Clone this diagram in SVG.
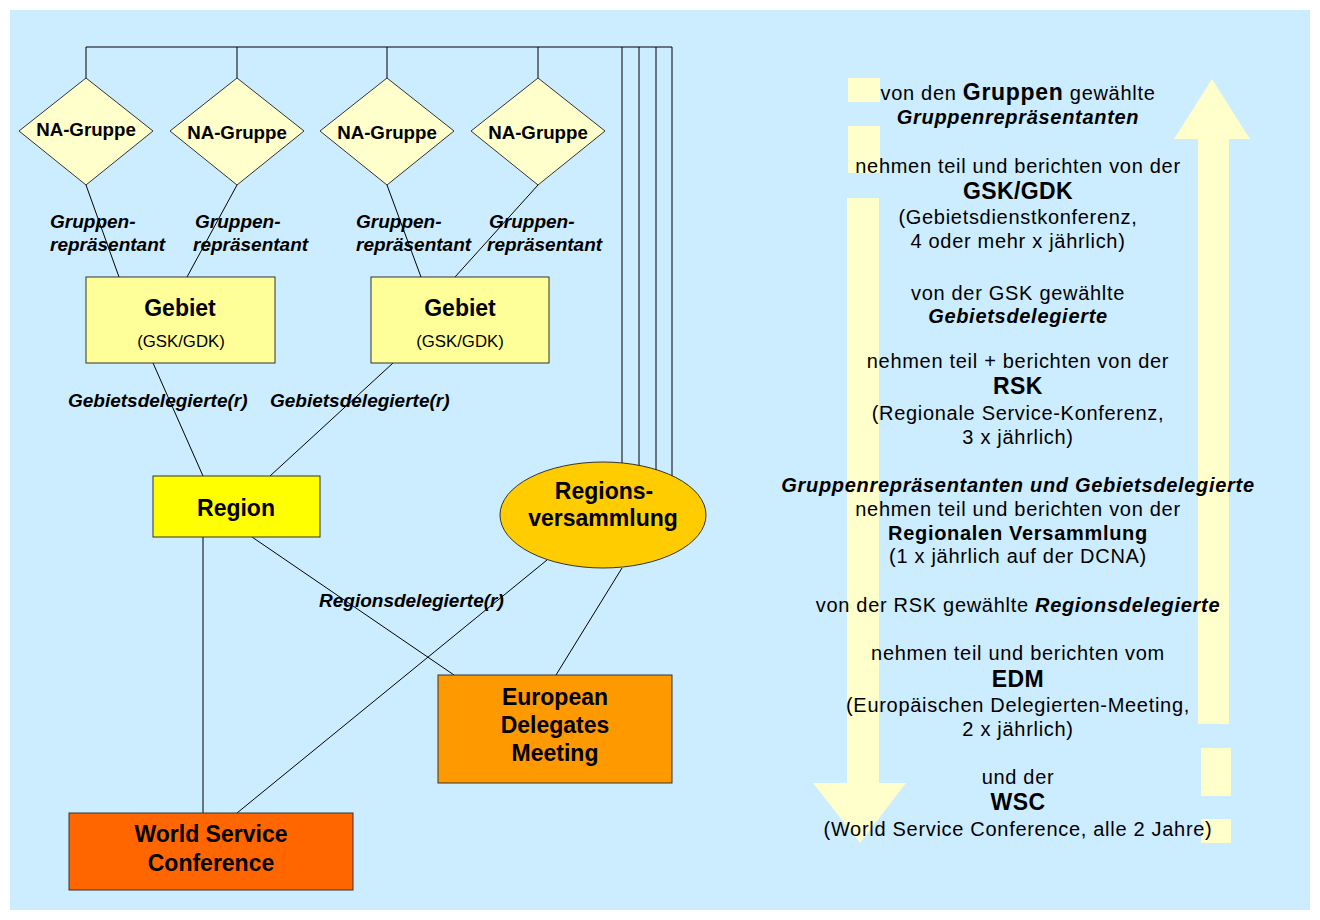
<svg xmlns="http://www.w3.org/2000/svg" width="1320" height="920" viewBox="0 0 1320 920">
<style>
.ln{stroke:#000;stroke-width:1;fill:none}
.box{stroke:#333;stroke-width:1}
.arr{fill:#FFFFCC;stroke:none}
text{font-family:"Liberation Sans",Arial,sans-serif;fill:#000}
.nt{font-weight:bold;font-size:23px;text-anchor:middle}
.na{font-weight:bold;font-size:18.7px;text-anchor:middle}
.lb{font-weight:bold;font-style:italic;font-size:19px}
.rt{font-size:20px;letter-spacing:0.7px;text-anchor:middle}
.rb{font-weight:bold;font-size:23px;letter-spacing:0.4px}
.bi{font-weight:bold;font-style:italic}
.b{font-weight:bold}
</style>
<rect x="0" y="0" width="1320" height="920" fill="#FFFFFF"/>
<rect x="10" y="10" width="1300" height="900" fill="#CCECFF"/>

<g id="arrow-down">
<rect class="arr" x="848" y="78" width="32" height="24"/>
<rect class="arr" x="848" y="126" width="32" height="47"/>
<rect class="arr" x="847" y="198" width="32" height="586"/>
<polygon class="arr" points="813,783 906,783 860,843"/>
</g>
<g id="arrow-up">
<polygon class="arr" points="1212,79 1250,139 1174,139"/>
<rect class="arr" x="1198" y="138" width="31" height="586"/>
<rect class="arr" x="1201" y="748" width="30" height="48"/>
<rect class="arr" x="1201" y="819" width="30" height="24"/>
</g>

<g id="connectors">
<polyline class="ln" points="86,79 86,47 672,47 672,476"/>
<line class="ln" x1="237" y1="47" x2="237" y2="78"/>
<line class="ln" x1="387" y1="47" x2="387" y2="78"/>
<line class="ln" x1="538" y1="47" x2="538" y2="78"/>
<line class="ln" x1="622" y1="47" x2="622" y2="463"/>
<line class="ln" x1="639" y1="47" x2="639" y2="466"/>
<line class="ln" x1="656" y1="47" x2="656" y2="470"/>
<line class="ln" x1="86" y1="185" x2="119" y2="277"/>
<line class="ln" x1="237" y1="185" x2="187" y2="277"/>
<line class="ln" x1="387" y1="185" x2="421" y2="277"/>
<line class="ln" x1="538" y1="185" x2="455" y2="277"/>
<line class="ln" x1="153" y1="363" x2="203" y2="476"/>
<line class="ln" x1="393" y1="363" x2="270" y2="476"/>
<line class="ln" x1="203" y1="537" x2="203" y2="813"/>
<line class="ln" x1="252" y1="537" x2="454" y2="675"/>
<line class="ln" x1="547" y1="560" x2="237" y2="813"/>
<line class="ln" x1="622" y1="568" x2="556" y2="675"/>
</g>

<g id="na1"><polygon class="box" fill="#FFFFCC" points="86,78 153,131 86,185 19,131"/><text class="na" x="86" y="136">NA-Gruppe</text></g>
<g id="na2"><polygon class="box" fill="#FFFFCC" points="237,78 304,131 237,185 170,131"/><text class="na" x="237" y="139">NA-Gruppe</text></g>
<g id="na3"><polygon class="box" fill="#FFFFCC" points="387,78 454,131 387,185 320,131"/><text class="na" x="387" y="139">NA-Gruppe</text></g>
<g id="na4"><polygon class="box" fill="#FFFFCC" points="538,78 605,131 538,185 471,131"/><text class="na" x="538" y="139">NA-Gruppe</text></g>

<g id="lbl-gr1"><text class="lb"><tspan x="50" y="228">Gruppen-</tspan><tspan x="50" y="251">repräsentant</tspan></text></g>
<g id="lbl-gr2"><text class="lb"><tspan x="195" y="228">Gruppen-</tspan><tspan x="193" y="251">repräsentant</tspan></text></g>
<g id="lbl-gr3"><text class="lb"><tspan x="356" y="228">Gruppen-</tspan><tspan x="356" y="251">repräsentant</tspan></text></g>
<g id="lbl-gr4"><text class="lb"><tspan x="489" y="228">Gruppen-</tspan><tspan x="487" y="251">repräsentant</tspan></text></g>

<g id="gebiet1"><rect class="box" fill="#FFFF99" x="86" y="277" width="189" height="86"/><text class="nt" x="180" y="316">Gebiet</text><text x="181" y="347" font-size="16.8" text-anchor="middle">(GSK/GDK)</text></g>
<g id="gebiet2"><rect class="box" fill="#FFFF99" x="371" y="277" width="178" height="86"/><text class="nt" x="460" y="316">Gebiet</text><text x="460" y="347" font-size="16.8" text-anchor="middle">(GSK/GDK)</text></g>

<g id="lbl-gd1"><text class="lb" x="68" y="407">Gebietsdelegierte(r)</text></g>
<g id="lbl-gd2"><text class="lb" x="270" y="407">Gebietsdelegierte(r)</text></g>

<g id="region"><rect class="box" fill="#FFFF00" x="153" y="476" width="167" height="61"/><text class="nt" x="236" y="516">Region</text></g>

<g id="regionsversammlung"><ellipse class="box" fill="#FFCC00" cx="603" cy="515" rx="103" ry="53"/><text class="nt" x="604" y="499">Regions-</text><text class="nt" x="603" y="526">versammlung</text></g>

<g id="lbl-rd"><text class="lb" x="319" y="607" font-size="19.5">Regionsdelegierte(r)</text></g>

<g id="edm"><rect class="box" fill="#FF9900" x="438" y="675" width="234" height="108"/><text class="nt" x="555" y="705">European</text><text class="nt" x="555" y="733">Delegates</text><text class="nt" x="555" y="761">Meeting</text></g>

<g id="wsc"><rect class="box" fill="#FF6600" x="69" y="813" width="284" height="77"/><text class="nt" x="211" y="842">World Service</text><text class="nt" x="211" y="871">Conference</text></g>

<g id="description">
<text class="rt" x="1018" y="100">von den <tspan class="b" font-size="23">Gruppen</tspan> gewählte</text>
<text class="rt bi" x="1018" y="124">Gruppenrepräsentanten</text>
<text class="rt" x="1018" y="173">nehmen teil und berichten von der</text>
<text class="rt rb" x="1018" y="199">GSK/GDK</text>
<text class="rt" x="1018" y="224">(Gebietsdienstkonferenz,</text>
<text class="rt" x="1018" y="248">4 oder mehr x jährlich)</text>
<text class="rt" x="1018" y="300">von der GSK gewählte</text>
<text class="rt bi" x="1018" y="323">Gebietsdelegierte</text>
<text class="rt" x="1018" y="368">nehmen teil + berichten von der</text>
<text class="rt rb" x="1018" y="394">RSK</text>
<text class="rt" x="1018" y="420">(Regionale Service-Konferenz,</text>
<text class="rt" x="1018" y="444">3 x jährlich)</text>
<text class="rt bi" x="1018" y="492">Gruppenrepräsentanten und Gebietsdelegierte</text>
<text class="rt" x="1018" y="516">nehmen teil und berichten von der</text>
<text class="rt b" x="1018" y="540">Regionalen Versammlung</text>
<text class="rt" x="1018" y="563">(1 x jährlich auf der DCNA)</text>
<text class="rt" x="1018" y="612">von der RSK gewählte <tspan class="bi">Regionsdelegierte</tspan></text>
<text class="rt" x="1018" y="660">nehmen teil und berichten vom</text>
<text class="rt rb" x="1018" y="687">EDM</text>
<text class="rt" x="1018" y="712">(Europäischen Delegierten-Meeting,</text>
<text class="rt" x="1018" y="736">2 x jährlich)</text>
<text class="rt" x="1018" y="784">und der</text>
<text class="rt rb" x="1018" y="810">WSC</text>
<text class="rt" x="1018" y="836">(World Service Conference, alle 2 Jahre)</text>
</g>
</svg>
